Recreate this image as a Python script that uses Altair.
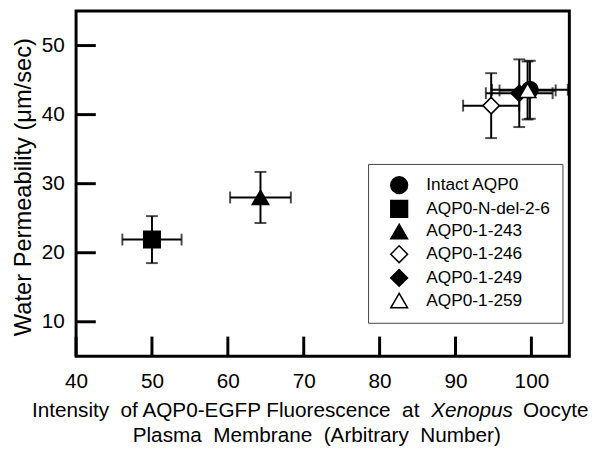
import altair as alt
import pandas as pd

# ---- data ----
names = ["Intact AQP0", "AQP0-N-del-2-6", "AQP0-1-243", "AQP0-1-246", "AQP0-1-249", "AQP0-1-259"]
x_vals = [99.8, 50.0, 64.3, 94.7, 98.4, 99.5]
y_vals = [43.6, 21.9, 28.0, 41.3, 43.1, 43.5]
x_err = [5.0, 3.9, 4.0, 3.7, 4.4, 3.7]
y_err = [4.2, 3.4, 3.7, 4.7, 4.9, 4.2]
shapes = ["circle", "square", "triangle-up", "diamond", "diamond", "triangle-up"]
fills = ["black", "black", "black", "white", "black", "white"]
x_ticks = [40, 50, 60, 70, 80, 90, 100]
y_ticks = [10, 20, 30, 40, 50]
y_title = "Water Permeability (\u03bcm/sec)"
x_title_line1 = ["Intensity\u00a0 of AQP0-EGFP Fluorescence\u00a0 at", "Xenopus", "Oocyte"]
x_title_line2 = "Plasma\u00a0 Membrane\u00a0 (Arbitrary\u00a0 Number)"

FONT = "Liberation Sans"
W, H = 500, 350

df = pd.DataFrame({
    "name": names, "x": x_vals, "y": y_vals,
    "xlo": [a - b for a, b in zip(x_vals, x_err)],
    "xhi": [a + b for a, b in zip(x_vals, x_err)],
    "ylo": [a - b for a, b in zip(y_vals, y_err)],
    "yhi": [a + b for a, b in zip(y_vals, y_err)],
})

xscale = alt.Scale(domain=[40, 105], nice=False, zero=False)
yscale = alt.Scale(domain=[5, 55], nice=False, zero=False)
xaxis = alt.Axis(values=x_ticks, title=None, labelFlush=False)
yaxis = alt.Axis(values=y_ticks, title=y_title, titleX=-53, titleY=178,
                 titleAngle=270, titleBaseline="middle", titleAlign="center",
                 labelFlush=False)


def X(f):
    return alt.X(f, type="quantitative", scale=xscale, axis=xaxis)


def Y(f):
    return alt.Y(f, type="quantitative", scale=yscale, axis=yaxis)


base = alt.Chart(df)

hbar = base.mark_rule(color="black", strokeWidth=2).encode(x=X("xlo"), x2="xhi", y=Y("y"))
vbar = base.mark_rule(color="black", strokeWidth=2).encode(y=Y("ylo"), y2="yhi", x=X("x"))
cap_l = base.mark_tick(color="black", orient="vertical", thickness=2, size=12).encode(x=X("xlo"), y=Y("y"))
cap_r = base.mark_tick(color="black", orient="vertical", thickness=2, size=12).encode(x=X("xhi"), y=Y("y"))
cap_b = base.mark_tick(color="black", orient="horizontal", thickness=2, size=12).encode(x=X("x"), y=Y("ylo"))
cap_t = base.mark_tick(color="black", orient="horizontal", thickness=2, size=12).encode(x=X("x"), y=Y("yhi"))

leg = alt.Legend(title=None, orient="none", legendX=296, legendY=155,
                 padding=12, symbolOffset=10, strokeColor="#444",
                 symbolSize=289, symbolStrokeWidth=1.5, labelFont=FONT,
                 labelFontSize=17.5, labelColor="black",
                 labelOffset=18, rowPadding=1, labelLimit=300)

points = base.mark_point(filled=True, strokeWidth=1.5, size=280, opacity=1).encode(
    x=X("x"), y=Y("y"),
    shape=alt.Shape("name:N", scale=alt.Scale(domain=names, range=shapes), sort=names, legend=leg),
    fill=alt.Fill("name:N", scale=alt.Scale(domain=names, range=fills), sort=names, legend=leg),
    stroke=alt.Stroke("name:N", scale=alt.Scale(domain=names, range=["black"] * len(names)),
                      sort=names, legend=leg),
)

yt = alt.Chart(pd.DataFrame({"v": y_ticks})).mark_rule(color="black", strokeWidth=3).encode(
    y=Y("v"), x=alt.value(0), x2=alt.value(20))
xt = alt.Chart(pd.DataFrame({"v": x_ticks})).mark_rule(color="black", strokeWidth=3).encode(
    x=X("v"), y=alt.value(H), y2=alt.value(H - 20))

tdf = pd.DataFrame({"t": [0]})
t1a = alt.Chart(tdf).mark_text(text=x_title_line1[0], font=FONT, fontSize=21, align="right",
                               baseline="alphabetic", color="black").encode(
    x=alt.value(348), y=alt.value(412))
t1b = alt.Chart(tdf).mark_text(text=x_title_line1[1], font=FONT, fontSize=21, fontStyle="italic",
                               align="left", baseline="alphabetic", color="black").encode(
    x=alt.value(360), y=alt.value(412))
t1c = alt.Chart(tdf).mark_text(text=x_title_line1[2], font=FONT, fontSize=21, align="left",
                               baseline="alphabetic", color="black").encode(
    x=alt.value(453), y=alt.value(412))
t2 = alt.Chart(tdf).mark_text(text=x_title_line2, font=FONT, fontSize=21, align="center",
                              baseline="alphabetic", color="black").encode(
    x=alt.value(244), y=alt.value(437))

chart = alt.layer(yt, xt, hbar, vbar, cap_l, cap_r, cap_b, cap_t, points, t1a, t1b, t1c, t2).properties(
    width=W, height=H,
    padding={"left": 69, "top": 0, "right": 25, "bottom": 100},
    autosize=alt.AutoSizeParams(type="none"),
).configure_view(stroke="black", strokeWidth=3).configure_axis(
    domain=False, ticks=False, tickSize=0, grid=False, labelFont=FONT, labelFontSize=21,
    labelColor="black", titleFont=FONT, titleFontSize=24, titleColor="black",
    titleFontWeight="normal",
).configure_axisX(labelPadding=15).configure_axisY(labelPadding=12)

chart.save("out.html", embed_options={"renderer": "svg", "actions": False})
